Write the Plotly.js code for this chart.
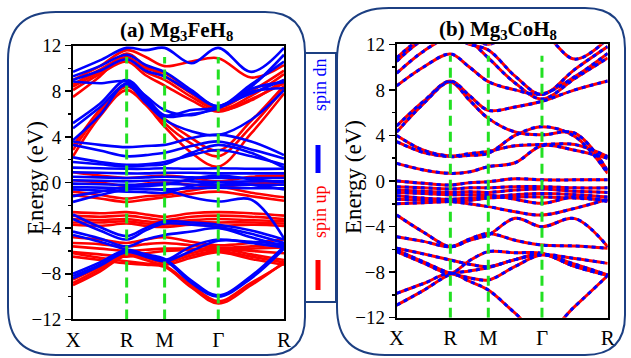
<!DOCTYPE html>
<html><head><meta charset="utf-8">
<script src="https://cdn.plot.ly/plotly-3.0.1.min.js"></script>
<style>html,body{margin:0;padding:0;background:#fff}#chart{width:631px;height:358px}</style>
</head><body><div id="chart"></div>
<script>
// k-path positions: X, mid, R, mid, M, mid, Γ, mid, R
const kpts = [0, 0.354, 0.707, 0.957, 1.207, 1.560, 1.914, 2.347, 2.780];
const tickPos = [0, 0.707, 1.207, 1.914, 2.780];
const tickLabels = ['X', 'R', 'M', 'Γ', 'R'];
const symLines = [0.707, 1.207, 1.914];
const eTicks = [-12, -8, -4, 0, 4, 8, 12];

// (a) Mg3FeH8 spin up
const feUp = [
  [2.3, 5.8, 8.1, 6.8, 4.9, 2.6, 1.4, 4.3, 7.8],
  [2.85, 6.1, 8.4, 7.2, 5.2, 3.4, 2.3, 4.9, 8.25],
  [3.2, 6.4, 8.6, 7.4, 5.6, 3.9, 2.8, 5.4, 8.5],
  [7.5, 9.3, 11.3, 10.2, 9.3, 7.8, 6.4, 7.6, 9.5],
  [8.1, 9.5, 10.6, 9.4, 8.5, 7.2, 6.2, 7.3, 8.7],
  [8.4, 9.7, 10.9, 9.7, 9.0, 7.5, 6.35, 7.2, 9.0],
  [9.0, 10.2, 11.6, 11.0, 10.2, 10.6, 10.9, 9.2, 10.3],
  [8.6, 9.9, 11.0, 10.0, 9.6, 8.0, 6.6, 8.0, 9.8],
  [0.9, 0.6, 0.4, 0.5, 0.6, 0.4, 0.1, 0.5, 0.6],
  [0.2, 0.0, -0.3, -0.1, 0.0, -0.2, -0.4, -0.1, 0.0],
  [-0.8, -1.1, -1.4, -1.2, -1.1, -0.7, -0.4, -0.9, -1.3],
  [-1.1, -1.4, -1.7, -1.5, -1.3, -1.0, -0.8, -1.2, -1.6],
  [-2.6, -2.7, -2.6, -2.8, -3.0, -2.7, -2.6, -2.7, -2.9],
  [-2.9, -3.0, -2.9, -3.1, -3.3, -3.0, -2.9, -3.0, -3.2],
  [-3.2, -3.3, -3.2, -3.4, -3.5, -3.3, -3.2, -3.3, -3.4],
  [-3.5, -3.5, -3.4, -3.6, -3.7, -3.5, -3.5, -3.5, -3.6],
  [-3.7, -3.8, -3.6, -3.8, -3.9, -3.7, -3.8, -3.7, -3.8],
  [-4.8, -5.0, -5.3, -5.0, -4.8, -5.2, -5.5, -5.3, -5.0],
  [-5.3, -5.4, -5.6, -5.4, -5.3, -5.5, -5.7, -5.6, -5.4],
  [-5.6, -5.8, -6.0, -5.9, -5.8, -5.8, -5.9, -5.8, -5.7],
  [-6.1, -6.3, -6.5, -6.2, -6.0, -5.9, -5.8, -6.0, -6.2],
  [-6.2, -6.6, -6.9, -7.1, -7.3, -9.0, -10.4, -8.8, -7.1],
  [-6.5, -6.8, -7.1, -7.2, -7.4, -9.2, -10.6, -9.0, -7.0],
  [-8.5, -7.4, -6.1, -6.4, -6.8, -6.2, -5.8, -6.3, -6.8],
  [-8.8, -7.6, -6.3, -6.6, -7.0, -6.4, -6.0, -6.5, -7.0],
  [-9.0, -7.8, -6.4, -6.8, -7.2, -6.6, -6.1, -6.7, -7.2]
];
// (a) Mg3FeH8 spin dn
const feDn = [
  [9.7, 10.7, 11.8, 11.6, 11.8, 10.45, 11.8, 9.7, 11.8],
  [9.3, 10.2, 11.2, 10.3, 9.7, 8.1, 6.65, 8.4, 11.2],
  [8.85, 8.7, 8.85, 7.6, 6.35, 5.9, 6.65, 7.8, 9.0],
  [5.2, 6.9, 9.0, 7.5, 5.9, 6.35, 6.6, 7.96, 8.26],
  [4.75, 6.6, 8.55, 7.0, 5.5, 4.5, 4.16, 5.5, 8.1],
  [9.0, 9.8, 10.8, 9.8, 9.3, 7.9, 6.7, 8.6, 10.6],
  [3.7, 5.9, 8.7, 7.2, 5.8, 6.0, 6.5, 8.2, 8.8],
  [3.3, 2.8, 2.3, 2.4, 2.6, 3.2, 3.6, 2.9, 2.1],
  [2.2, 1.8, 1.55, 1.6, 1.8, 2.4, 2.85, 2.3, 1.55],
  [1.8, 1.6, 1.4, 1.5, 1.6, 2.6, 3.3, 2.6, 1.3],
  [3.6, 3.3, 3.1, 3.2, 3.3, 3.9, 4.2, 3.6, 2.4],
  [1.3, 1.25, 1.2, 1.2, 1.25, 1.2, 1.25, 1.2, 1.2],
  [0.9, 0.85, 0.8, 0.8, 0.85, 0.85, 0.8, 0.8, 0.8],
  [0.5, 0.45, 0.4, 0.45, 0.5, 0.45, 0.4, 0.4, 0.4],
  [0.2, 0.15, 0.1, 0.15, 0.2, 0.1, 0.05, 0.1, 0.1],
  [-0.1, -0.15, -0.2, -0.15, -0.1, -0.2, -0.25, -0.2, -0.2],
  [-0.4, -0.45, -0.5, -0.55, -0.6, -0.5, -0.45, -0.5, -0.5],
  [-0.6, -0.7, -0.8, -0.85, -0.9, -0.3, 0.0, -0.2, -0.6],
  [-1.7, -1.1, -0.6, -0.6, -0.65, -1.3, -1.67, -1.5, -4.9],
  [-1.2, -0.8, -0.4, -0.3, -0.2, 0.3, 0.6, 0.3, 0.0],
  [-2.8, -3.9, -4.7, -4.0, -3.4, -3.5, -3.7, -4.2, -5.0],
  [-3.2, -4.2, -5.0, -4.2, -3.6, -3.7, -3.9, -4.5, -5.3],
  [-4.3, -4.9, -5.6, -5.0, -4.6, -4.3, -4.0, -4.8, -5.6],
  [-4.6, -5.2, -5.9, -6.3, -6.8, -5.6, -5.0, -5.3, -5.7],
  [-8.0, -7.0, -5.9, -6.3, -6.7, -8.6, -9.9, -8.2, -5.6],
  [-8.2, -7.2, -6.0, -6.4, -6.8, -8.8, -10.0, -8.4, -5.8],
  [-8.4, -7.3, -6.1, -6.5, -6.9, -6.0, -5.1, -5.2, -5.4]
];
// (b) Mg3CoH8 (spin up and spin dn coincide)
const coBands = [
  [4.84, 7.0, 8.78, 7.5, 6.2, 6.5, 7.0, 8.0, 8.78],
  [4.3, 6.8, 8.7, 7.1, 5.5, 4.3, 4.05, 4.2, 0.9],
  [8.35, 10.0, 11.15, 10.0, 8.73, 8.0, 7.64, 9.16, 11.2],
  [9.46, 11.4, 12.6, 12.0, 11.5, 9.2, 7.6, 9.8, 11.8],
  [10.5, 12.4, 13.0, 12.3, 10.8, 8.6, 7.2, 9.0, 10.8],
  [10.8, 12.6, 13.0, 12.6, 12.0, 13.0, 13.0, 10.7, 12.5],
  [3.45, 2.5, 2.14, 2.25, 2.43, 4.0, 4.77, 3.9, 0.67],
  [4.0, 2.7, 2.2, 2.4, 2.6, 3.1, 3.2, 3.2, 2.14],
  [1.55, 0.97, 0.67, 0.8, 1.26, 1.6, 3.1, 2.7, 2.0],
  [0.0, -0.2, -0.35, -0.15, -0.06, 0.2, 0.1, 0.1, 0.1],
  [-0.5, -0.6, -0.7, -0.6, -0.6, -0.5, -0.5, -0.6, -0.6],
  [-0.8, -0.9, -1.0, -0.95, -1.0, -0.8, -0.7, -0.9, -1.0],
  [-1.0, -1.1, -1.2, -1.2, -1.23, -1.6, -1.96, -1.4, -1.81],
  [-1.3, -1.5, -1.6, -1.5, -1.4, -1.2, -1.1, -1.2, -1.4],
  [-1.6, -1.7, -1.81, -2.0, -2.25, -2.7, -2.99, -2.4, -1.6],
  [-2.0, -1.9, -1.8, -1.7, -1.5, -1.4, -1.4, -1.5, -1.7],
  [-2.99, -4.5, -5.77, -5.2, -4.74, -3.28, -4.01, -3.3, -5.77],
  [-4.89, -5.3, -5.77, -5.1, -4.6, -5.2, -5.62, -5.7, -5.9],
  [-6.06, -7.1, -8.1, -8.5, -8.69, -7.5, -6.5, -7.3, -8.25],
  [-5.9, -6.4, -6.94, -7.3, -7.52, -6.9, -6.45, -6.8, -7.23],
  [-6.2, -7.2, -8.1, -7.0, -6.2, -6.3, -6.35, -7.5, -8.3],
  [-9.86, -9.0, -8.1, -8.8, -9.57, -11.6, -13.5, -11.0, -8.3],
  [-10.9, -9.6, -8.2, -7.9, -7.6, -6.9, -6.4, -7.5, -8.25]
];

const RED = '#ff0000', BLUE = '#0000ff', GREEN = '#22e022', NAVY = '#1c3f82';
const traces = [];
function band(y, xa, ya, color, width, dash) {
  traces.push({x: kpts, y: y, xaxis: xa, yaxis: ya, mode: 'lines', hoverinfo: 'skip',
    line: {color: color, width: width, shape: 'spline', smoothing: 1, dash: dash || 'solid'}});
}
feUp.forEach(b => band(b, 'x', 'y', RED, 2.6));
feDn.forEach(b => band(b, 'x', 'y', BLUE, 2.6));
coBands.forEach(b => band(b, 'x2', 'y2', RED, 3));
coBands.forEach(b => band(b, 'x2', 'y2', BLUE, 3, '4px,4px'));
[['x','y'],['x2','y2']].forEach(([xa, ya]) => {
  symLines.forEach(k => traces.push({x: [k, k], y: [-12, 11], xaxis: xa, yaxis: ya, mode: 'lines',
    hoverinfo: 'skip', line: {color: GREEN, width: 3, dash: '10px,6px'}}));
});

const W = 631, H = 358;
const px = v => v / W, py = v => 1 - v / H;
function rrect(x0, y0, x1, y1, rtl, rtr, rbr, rbl) {
  return `M ${px(x0)} ${py(y0 + rtl)} Q ${px(x0)} ${py(y0)} ${px(x0 + rtl)} ${py(y0)} ` +
    `L ${px(x1 - rtr)} ${py(y0)} Q ${px(x1)} ${py(y0)} ${px(x1)} ${py(y0 + rtr)} ` +
    `L ${px(x1)} ${py(y1 - rbr)} Q ${px(x1)} ${py(y1)} ${px(x1 - rbr)} ${py(y1)} ` +
    `L ${px(x0 + rbl)} ${py(y1)} Q ${px(x0)} ${py(y1)} ${px(x0)} ${py(y1 - rbl)} Z`;
}
const shapes = [
  {type: 'path', xref: 'paper', yref: 'paper', path: rrect(8, 12, 305, 355, 48, 40, 38, 48), line: {color: NAVY, width: 2}},
  {type: 'path', xref: 'paper', yref: 'paper', path: rrect(337, 8, 625, 355, 52, 40, 40, 48), line: {color: NAVY, width: 2}},
  {type: 'rect', xref: 'paper', yref: 'paper', x0: px(305), x1: px(336), y0: py(302), y1: py(53), line: {color: NAVY, width: 2}},
  {type: 'line', xref: 'paper', yref: 'paper', x0: px(318), x1: px(318), y0: py(145), y1: py(173), line: {color: BLUE, width: 5}},
  {type: 'line', xref: 'paper', yref: 'paper', x0: px(318), x1: px(318), y0: py(260), y1: py(290), line: {color: RED, width: 5}}
];
const serif = 'Liberation Serif, Times New Roman, serif';
const annotations = [
  {text: '<b>(a) Mg<sub>3</sub>FeH<sub>8</sub></b>', x: px(176), y: py(31), xref: 'paper', yref: 'paper', showarrow: false, xanchor: 'center', yanchor: 'middle', font: {family: serif, size: 21, color: '#000'}},
  {text: '<b>(b) Mg<sub>3</sub>CoH<sub>8</sub></b>', x: px(498), y: py(30), xref: 'paper', yref: 'paper', showarrow: false, xanchor: 'center', yanchor: 'middle', font: {family: serif, size: 21, color: '#000'}},
  {text: 'Energy (eV)', x: px(35), y: py(178), xref: 'paper', yref: 'paper', showarrow: false, textangle: -90, xanchor: 'center', yanchor: 'middle', font: {family: serif, size: 23, color: '#000'}},
  {text: 'Energy (eV)', x: px(354), y: py(177), xref: 'paper', yref: 'paper', showarrow: false, textangle: -90, xanchor: 'center', yanchor: 'middle', font: {family: serif, size: 23, color: '#000'}},
  {text: 'spin dn', x: px(320), y: py(85), xref: 'paper', yref: 'paper', showarrow: false, textangle: -90, xanchor: 'center', yanchor: 'middle', font: {family: serif, size: 18, color: BLUE}},
  {text: 'spin up', x: px(320), y: py(212), xref: 'paper', yref: 'paper', showarrow: false, textangle: -90, xanchor: 'center', yanchor: 'middle', font: {family: serif, size: 18, color: RED}}
];
function xax(domain, anchor) {
  return {domain: domain, anchor: anchor, range: [0, 2.78], tickmode: 'array', tickvals: tickPos, ticktext: tickLabels,
    showline: true, mirror: true, linecolor: '#000', linewidth: 2, showgrid: false, zeroline: false, ticks: '',
    tickfont: {family: serif, size: 21, color: '#000'}};
}
function yax(domain, anchor) {
  return {domain: domain, anchor: anchor, range: [-12, 12], tickmode: 'array', tickvals: eTicks,
    showline: true, mirror: true, linecolor: '#000', linewidth: 2, showgrid: false, zeroline: false,
    ticks: 'outside', ticklen: 6, tickwidth: 1.5, tickcolor: '#000',
    minor: {dtick: 2, ticks: 'outside', ticklen: 3, tickwidth: 1.5, tickcolor: '#000', showgrid: false},
    tickfont: {family: serif, size: 19, color: '#000'}};
}
const layout = {
  width: W, height: H, margin: {l: 0, r: 0, t: 0, b: 0}, showlegend: false,
  paper_bgcolor: '#fff', plot_bgcolor: '#fff',
  xaxis: xax([73 / W, 284 / W], 'y'),
  yaxis: yax([1 - 319.4 / H, 1 - 45.6 / H], 'x'),
  xaxis2: xax([396.7 / W, 607.7 / W], 'y2'),
  yaxis2: yax([1 - 317.7 / H, 1 - 44.3 / H], 'x2'),
  shapes: shapes, annotations: annotations
};
Plotly.newPlot('chart', traces, layout, {displayModeBar: false, staticPlot: true});
</script></body></html>
